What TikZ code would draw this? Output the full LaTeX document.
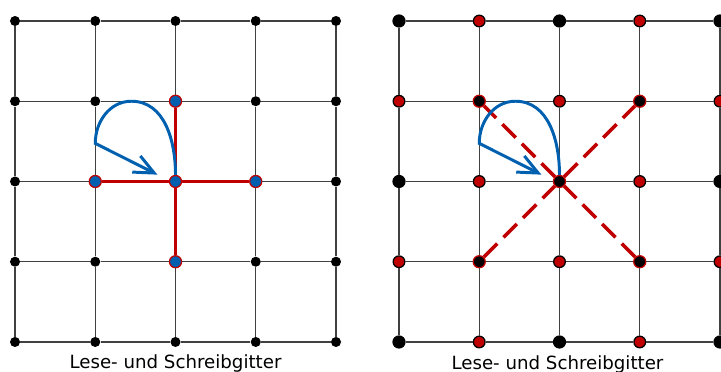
\documentclass[tikz,border=0pt]{standalone}
\usepackage{fontspec}
\setmainfont{DejaVu Sans}
\usetikzlibrary{arrows.meta}
\definecolor{gitterrot}{RGB}{192,0,0}
\definecolor{gitterblau}{RGB}{0,96,176}

\begin{document}
\begin{tikzpicture}[
        punkt/.style={circle,fill=black,inner sep=0pt,minimum size=0.25cm},
        grosspunkt/.style={circle,fill=black,inner sep=0pt,minimum size=0.33cm},
        blaupunkt/.style={circle,fill=gitterblau,draw=gitterrot,line width=0.9pt,inner sep=0pt,minimum size=0.3cm},
        rotpunkt/.style={circle,fill=gitterrot,draw=black,line width=0.9pt,inner sep=0pt,minimum size=0.29cm},
        schwarzrot/.style={circle,fill=black,draw=gitterrot,line width=0.9pt,inner sep=0pt,minimum size=0.3cm},
        gitter/.style={black!75,line width=0.75pt},
        rotlinie/.style={gitterrot,line width=2.8pt},
        rotgestrichelt/.style={gitterrot,line width=2.5pt,dash pattern=on 0.47cm off 0.22cm},
        schleife/.style={gitterblau,line width=2.1pt,-{Straight Barb[length=5mm,width=4.5mm]}},
        beschriftung/.style={font=\fontsize{12.9}{15}\selectfont,anchor=base}
    ]
    \useasboundingbox (-0.374,-0.748) rectangle (17.595,8.523);
    \begin{scope}
        % Punkte
        \foreach \i in {0,...,4}
            \foreach \j in {0,...,4} {
                \pgfmathtruncatemacro{\abst}{abs(\i-2)+abs(\j-2)}
                \ifnum\abst<2 \def\stil{blaupunkt}\else\def\stil{punkt}\fi
                \node[\stil] (L\i\j) at (2*\i,2*\j) {};
            }
        % Gitterlinien
        \foreach \a in {0,...,3}
            \foreach \k in {0,...,4} {
                \pgfmathtruncatemacro{\nx}{\a+1}
                \draw[gitter] (L\a\k) -- (L\nx\k);
                \draw[gitter] (L\k\a) -- (L\k\nx);
            }
        \draw[rotlinie] (L21) -- (L22) -- (L23);
        \draw[rotlinie] (L12) -- (L22) -- (L32);
        \coordinate (spitzeL) at (3.55,4.17);
        \draw[schleife] (L22) to[out=90,in=0] ++(-1.1,2.0) to[out=180,in=90] ++(-0.9,-1.05) -- (spitzeL);
        \node[beschriftung] (textL) at (4,-0.65) {Lese- und Schreibgitter};
    \end{scope}
    \begin{scope}[xshift=9.57cm]
        % Punkte
        \foreach \i in {0,...,4}
            \foreach \j in {0,...,4} {
                \pgfmathtruncatemacro{\summe}{mod(\i+\j,2)}
                \pgfmathtruncatemacro{\ungerade}{mod(\i,2)+(\i==2)*(\j==2)}
                \ifnum\summe=1 \def\stil{rotpunkt}\else
                    \ifnum\ungerade>0 \def\stil{schwarzrot}\else\def\stil{grosspunkt}\fi
                \fi
                \node[\stil] (R\i\j) at (2*\i,2*\j) {};
            }
        % Gitterlinien
        \foreach \a in {0,...,3}
            \foreach \k in {0,...,4} {
                \pgfmathtruncatemacro{\nx}{\a+1}
                \draw[gitter] (R\a\k) -- (R\nx\k);
                \draw[gitter] (R\k\a) -- (R\k\nx);
            }
        \draw[rotgestrichelt] (R11) -- (R22) -- (R33);
        \draw[rotgestrichelt] (R31) -- (R22) -- (R13);
        \coordinate (spitzeR) at (3.55,4.17);
        \draw[schleife] (R22) to[out=90,in=0] ++(-1.1,2.0) to[out=180,in=90] ++(-0.9,-1.05) -- (spitzeR);
        \node[beschriftung] (textR) at (3.95,-0.69) {Lese- und Schreibgitter};
    \end{scope}
\end{tikzpicture}
\end{document}
